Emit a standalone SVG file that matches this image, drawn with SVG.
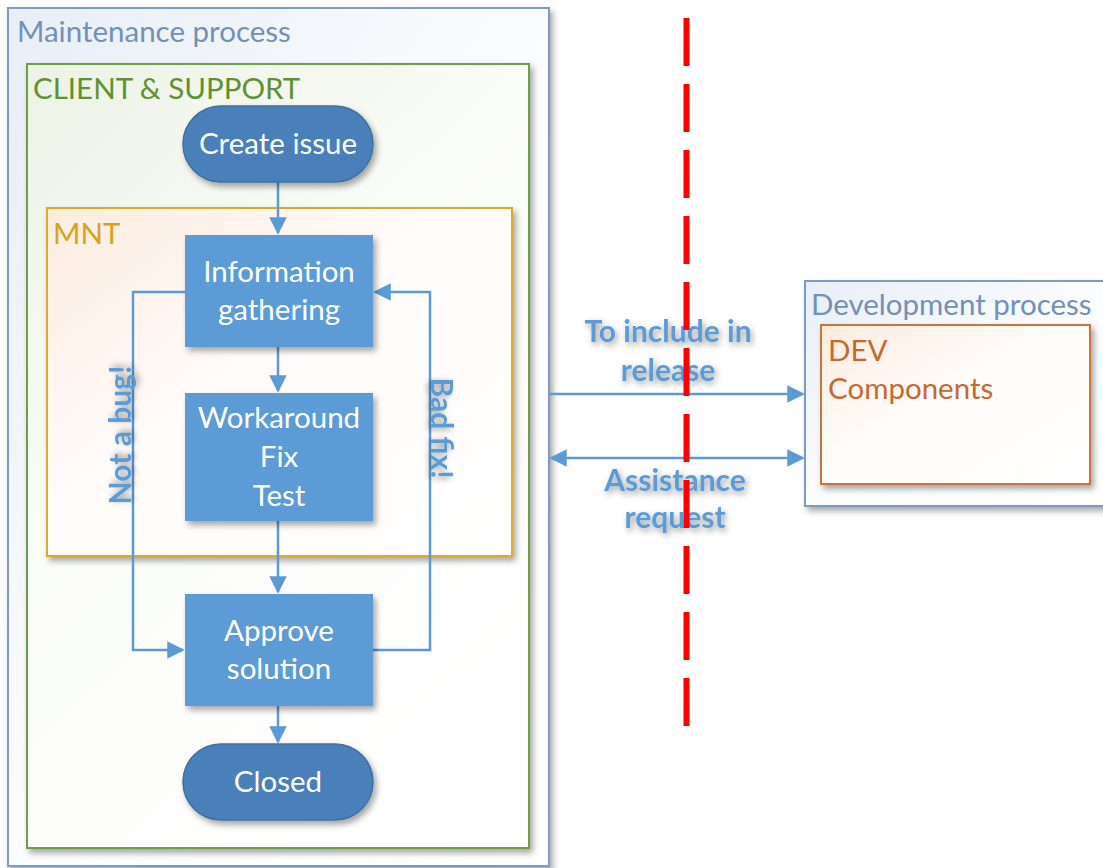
<svg xmlns="http://www.w3.org/2000/svg" width="1103" height="868" viewBox="0 0 1103 868">
<style>
.t{font-family:Lato,"Open Sans","Liberation Sans",sans-serif;font-size:29.5px}
.w{fill:#ffffff;text-anchor:middle}
.lbl{fill:#5b9bd5;font-weight:bold;font-size:30px;text-anchor:middle;filter:url(#tsh)}
.node{fill:#5b9bd5;filter:url(#sh)}
.pill{fill:#4a80b9;stroke:#41709f;stroke-width:1.5;filter:url(#sh)}
.con{fill:none;stroke:#5b9bd5;stroke-width:2.5}
</style>
<defs>
<filter id="sh" x="-10%" y="-10%" width="130%" height="130%">
<feDropShadow dx="3" dy="4" stdDeviation="3" flood-color="#000" flood-opacity="0.35"/>
</filter>
<filter id="tsh" x="-10%" y="-20%" width="130%" height="150%">
<feDropShadow dx="2" dy="3" stdDeviation="3" flood-color="#000" flood-opacity="0.4"/>
</filter>
<linearGradient id="gOuter" x1="0" y1="0" x2="1" y2="1">
<stop offset="0" stop-color="#e8eef7"/><stop offset="0.5" stop-color="#fbfcfe"/><stop offset="1" stop-color="#ffffff"/>
</linearGradient>
<linearGradient id="gGreen" x1="0" y1="0" x2="0.6" y2="1">
<stop offset="0" stop-color="#ecf2e5"/><stop offset="0.45" stop-color="#fafcf8"/><stop offset="1" stop-color="#ffffff"/>
</linearGradient>
<linearGradient id="gOrange" x1="0" y1="0" x2="1" y2="1">
<stop offset="0" stop-color="#fcecdf"/><stop offset="0.45" stop-color="#fffcfa"/><stop offset="1" stop-color="#ffffff"/>
</linearGradient>
<marker id="ah" viewBox="0 0 10 10" refX="9" refY="5" markerWidth="7" markerHeight="7" orient="auto-start-reverse" markerUnits="strokeWidth">
<path d="M0,0 L10,5 L0,10 z" fill="#5b9bd5"/>
</marker>
</defs>

<g id="maintenance-process">
<rect x="8" y="8" width="541" height="858" fill="url(#gOuter)" stroke="#7f9bc4" stroke-width="2" filter="url(#sh)"/>
<text class="t" x="17" y="42" fill="#7390b8">Maintenance process</text>
</g>
<g id="client-support">
<rect x="27" y="64" width="502" height="784" fill="url(#gGreen)" stroke="#6e9e45" stroke-width="2" filter="url(#sh)"/>
<text class="t" x="33" y="99" fill="#5e9133">CLIENT &amp; SUPPORT</text>
</g>
<g id="mnt">
<rect x="47" y="208" width="465" height="348" fill="url(#gOrange)" stroke="#dbab2c" stroke-width="2" filter="url(#sh)"/>
<text class="t" x="53" y="244" fill="#d6a41a">MNT</text>
</g>
<g id="development-process">
<rect x="805" y="281" width="310" height="225" fill="url(#gOuter)" stroke="#7f9bc4" stroke-width="2" filter="url(#sh)"/>
<text class="t" x="811" y="315" fill="#7390b8">Development process</text>
</g>
<g id="dev">
<rect x="821" y="325" width="269" height="159" fill="url(#gOrange)" stroke="#c8763c" stroke-width="2" filter="url(#sh)"/>
<text class="t" x="828" y="361" fill="#c5692e">DEV</text>
<text class="t" x="828" y="399" fill="#c5692e">Components</text>
</g>

<g id="connectors">
<line class="con" x1="278" y1="182" x2="278" y2="233" marker-end="url(#ah)"/>
<line class="con" x1="278" y1="347" x2="278" y2="391" marker-end="url(#ah)"/>
<line class="con" x1="278" y1="521" x2="278" y2="592" marker-end="url(#ah)"/>
<line class="con" x1="278" y1="706" x2="278" y2="742" marker-end="url(#ah)"/>
<polyline class="con" points="185,292 133,292 133,650 183,650" marker-end="url(#ah)"/>
<polyline class="con" points="373,650 430,650 430,292 375,292" marker-end="url(#ah)"/>
<line class="con" x1="549" y1="394" x2="803" y2="394" marker-end="url(#ah)"/>
<line class="con" x1="551" y1="458" x2="803" y2="458" marker-start="url(#ah)" marker-end="url(#ah)"/>
</g>

<g id="label-not-a-bug"><text class="t lbl" transform="translate(131,435) rotate(-90)">Not a bug!</text></g>
<g id="label-bad-fix"><text class="t lbl" transform="translate(431,428) rotate(90)">Bad fix!</text></g>
<g id="label-include"><text class="t lbl" x="668" y="342">To include in</text><text class="t lbl" x="668" y="381">release</text></g>
<g id="label-assistance"><text class="t lbl" x="675" y="491">Assistance</text><text class="t lbl" x="675" y="528">request</text></g>

<g id="create-issue">
<rect class="pill" x="183" y="106" width="190" height="76" rx="38"/>
<text class="t w" x="278" y="154">Create issue</text>
</g>
<g id="information-gathering">
<rect class="node" x="185" y="235" width="188" height="112"/>
<text class="t w" x="279" y="282">Information</text>
<text class="t w" x="279" y="320">gathering</text>
</g>
<g id="workaround">
<rect class="node" x="185" y="393" width="188" height="128"/>
<text class="t w" x="279" y="428">Workaround</text>
<text class="t w" x="279" y="467">Fix</text>
<text class="t w" x="279" y="506">Test</text>
</g>
<g id="approve-solution">
<rect class="node" x="185" y="594" width="188" height="112"/>
<text class="t w" x="279" y="641">Approve</text>
<text class="t w" x="279" y="679">solution</text>
</g>
<g id="closed">
<rect class="pill" x="183" y="744" width="190" height="76" rx="38"/>
<text class="t w" x="278" y="792">Closed</text>
</g>

<g id="divider">
<line x1="686.5" y1="18" x2="686.5" y2="726" stroke="#ff0000" stroke-width="6" stroke-dasharray="48 18"/>
</g>
</svg>
